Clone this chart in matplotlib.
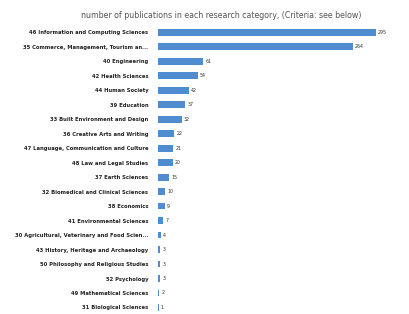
import matplotlib.pyplot as plt

categories = [
    "46 Information and Computing Sciences",
    "35 Commerce, Management, Tourism an...",
    "40 Engineering",
    "42 Health Sciences",
    "44 Human Society",
    "39 Education",
    "33 Built Environment and Design",
    "36 Creative Arts and Writing",
    "47 Language, Communication and Culture",
    "48 Law and Legal Studies",
    "37 Earth Sciences",
    "32 Biomedical and Clinical Sciences",
    "38 Economics",
    "41 Environmental Sciences",
    "30 Agricultural, Veterinary and Food Scien...",
    "43 History, Heritage and Archaeology",
    "50 Philosophy and Religious Studies",
    "52 Psychology",
    "49 Mathematical Sciences",
    "31 Biological Sciences",
]
counts = [295, 264, 61, 54, 42, 37, 32, 22, 21, 20, 15, 10, 9, 7, 4, 3, 3, 3, 2, 1]

fig = plt.figure(figsize=(4.09, 3.14), dpi=100)
ax = fig.add_axes([158 / 409, 0, (400 - 158) / 409, 289 / 314])

y = list(range(len(categories)))
ax.barh(y, counts, height=0.47, color="#4f8cd0")
ax.set_xlim(0, 328)
ax.set_ylim(19.45, -0.5)

for yi, c in zip(y, counts):
    ax.text(c + 3, yi, str(c), va="center", ha="left", fontsize=3.4, color="#333333")

ax.set_yticks(y)
ax.set_yticklabels(categories, fontsize=3.8, color="#222222", fontweight="bold")
ax.tick_params(axis="y", length=0, pad=7)
ax.set_xticks([])
for s in ax.spines.values():
    s.set_visible(False)

fig.text(221 / 409, 1 - 16 / 314, "number of publications in each research category, (Criteria: see below)",
         ha="center", va="center", fontsize=5.7, color="#555555")

fig.savefig("out.png", dpi=100)
